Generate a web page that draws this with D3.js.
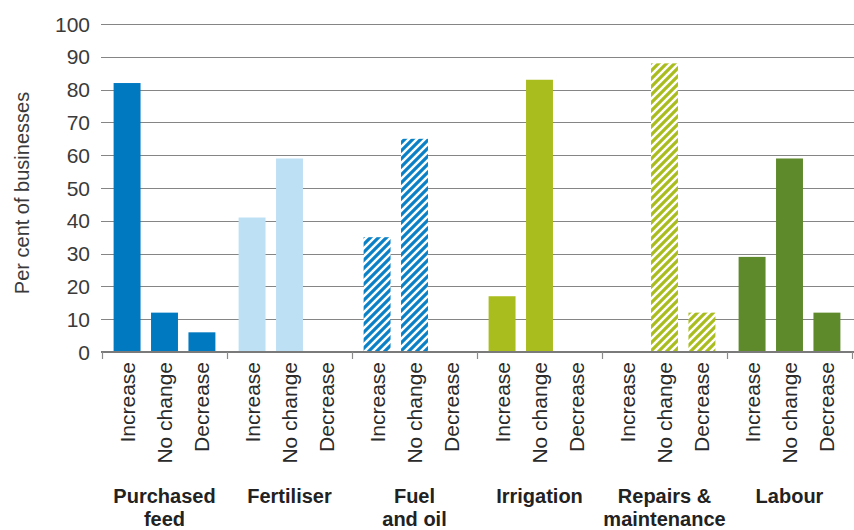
<!DOCTYPE html>
<html>
<head>
<meta charset="utf-8">
<script src="https://cdn.jsdelivr.net/npm/d3@7/dist/d3.min.js"></script>
<style>
  html, body { margin: 0; padding: 0; background: #fff; }
  svg { display: block; font-family: "Liberation Sans", Arial, Helvetica, sans-serif; }
</style>
</head>
<body>
<svg id="chart" width="854" height="530"></svg>
<script>
// ---- data ----
const groups = ["Purchased feed", "Fertiliser", "Fuel and oil", "Irrigation", "Repairs & maintenance", "Labour"];
const groupLabelLines = [["Purchased", "feed"], ["Fertiliser"], ["Fuel", "and oil"], ["Irrigation"], ["Repairs &", "maintenance"], ["Labour"]];
const responses = ["Increase", "No change", "Decrease"];
const increaseValues = [82, 41, 35, 17, 0, 29];
const noChangeValues = [12, 59, 65, 83, 88, 59];
const decreaseValues = [6, 0, 0, 0, 12, 12];
const groupColours = ["#0079c1", "#bee0f5", "#0a80c6", "#aabd1f", "#aabd1f", "#5e8a2b"];
const groupHatched = [false, false, true, false, true, false];
const yTicks = [0, 10, 20, 30, 40, 50, 60, 70, 80, 90, 100];
const yTitle = "Per cent of businesses";

const seriesValues = [increaseValues, noChangeValues, decreaseValues];

const svg = d3.select("#chart");
const plotLeft = 102, plotRight = 852, plotTop = 24, plotBottom = 352;

const x0 = d3.scaleBand().domain(groups).range([plotLeft, plotRight]).padding(0);
const x1 = d3.scaleBand().domain(responses).range([0, x0.bandwidth()])
  .paddingInner(0.28).paddingOuter(0.31);
const y = d3.scaleLinear().domain([0, 100]).range([plotBottom, plotTop]);

// hatch patterns
const defs = svg.append("defs");
groups.forEach((g, i) => {
  if (!groupHatched[i]) return;
  const p = defs.append("pattern")
    .attr("id", "hatch" + i)
    .attr("patternUnits", "userSpaceOnUse")
    .attr("width", 8).attr("height", 8);
  p.append("rect").attr("width", 8).attr("height", 8).attr("fill", "#fff");
  p.append("path")
    .attr("d", "M-2,2 l4,-4 M0,8 l8,-8 M6,10 l4,-4")
    .attr("stroke", groupColours[i]).attr("stroke-width", 3.2);
});

// gridlines
svg.append("g").selectAll("line").data(yTicks.filter(t => t > 0)).join("line")
  .attr("x1", plotLeft - 1).attr("x2", 854)
  .attr("y1", d => Math.round(y(d)) + 0.5).attr("y2", d => Math.round(y(d)) + 0.5)
  .attr("stroke", "#858585").attr("stroke-width", 1);

// y tick labels
svg.append("g").selectAll("text").data(yTicks).join("text")
  .attr("x", 90).attr("y", d => y(d))
  .attr("dy", "0.36em")
  .attr("text-anchor", "end")
  .attr("font-size", 21)
  .attr("fill", "#3a3a3a")
  .text(d => d);

// y title
svg.append("text")
  .attr("transform", `translate(29,${(plotTop + plotBottom) / 2 + 5}) rotate(-90)`)
  .attr("text-anchor", "middle")
  .attr("font-size", 20)
  .attr("fill", "#3a3a3a")
  .text(yTitle);

// bars
const gGroups = svg.append("g").selectAll("g").data(groups).join("g")
  .attr("transform", d => `translate(${x0(d)},0)`);

gGroups.each(function(g, gi) {
  const data = responses.map((r, ri) => ({ r, v: seriesValues[ri][gi] }));
  d3.select(this).selectAll("rect").data(data.filter(d => d.v > 0)).join("rect")
    .attr("x", d => x1(d.r))
    .attr("width", x1.bandwidth())
    .attr("y", d => y(d.v))
    .attr("height", d => y(0) - y(d.v))
    .attr("fill", groupHatched[gi] ? `url(#hatch${gi})` : groupColours[gi]);
  // category labels
  d3.select(this).selectAll("text.cat").data(responses).join("text")
    .attr("class", "cat")
    .attr("transform", d => `translate(${x1(d) + x1.bandwidth() / 2},${plotBottom + 10}) rotate(-90)`)
    .attr("text-anchor", "end")
    .attr("dy", "0.36em")
    .attr("font-size", 21)
    .attr("fill", "#2a2a2a")
    .text(d => d);
  // group labels
  const t = d3.select(this).append("text")
    .attr("x", x0.bandwidth() / 2)
    .attr("text-anchor", "middle")
    .attr("font-size", 20)
    .attr("font-weight", "bold")
    .attr("fill", "#222");
  groupLabelLines[gi].forEach((line, li) => {
    t.append("tspan").attr("x", x0.bandwidth() / 2).attr("y", 503 + li * 22.5).text(line);
  });
});

// baseline axis
svg.append("line")
  .attr("x1", plotLeft - 1).attr("x2", 854)
  .attr("y1", plotBottom).attr("y2", plotBottom)
  .attr("stroke", "#7a7a7a").attr("stroke-width", 2);

// group boundary ticks
const boundaries = groups.map(g => x0(g)).concat([x0(groups[groups.length - 1]) + x0.bandwidth()]);
svg.append("g").selectAll("line").data(boundaries).join("line")
  .attr("x1", d => Math.round(d) + 0.5).attr("x2", d => Math.round(d) + 0.5)
  .attr("y1", plotBottom).attr("y2", plotBottom + 7)
  .attr("stroke", "#8a8a8a").attr("stroke-width", 1.2);
</script>
</body>
</html>
